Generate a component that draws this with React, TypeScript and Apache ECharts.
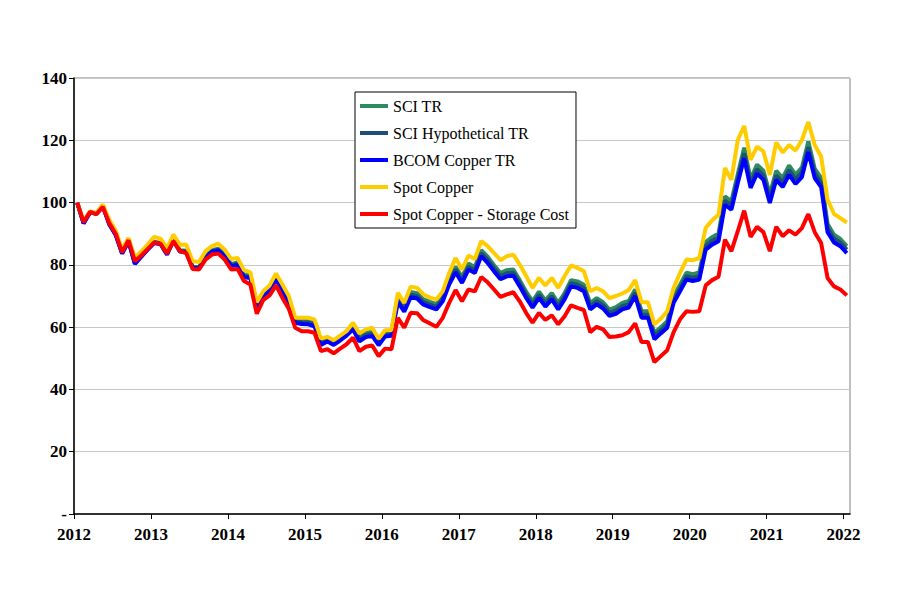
import React, { useEffect, useRef } from "react";
import * as echarts from "echarts";

const startYear = 2012;
const yTicks = [0, 20, 40, 60, 80, 100, 120, 140];
const seriesNames = ["SCI TR", "SCI Hypothetical TR", "BCOM Copper TR", "Spot Copper", "Spot Copper - Storage Cost"];
const seriesColors = ["#2E8B5F", "#1F4E79", "#0000FF", "#FFCC00", "#FF0000"];

const sciTR = [
  100, 93.5, 97, 96.6, 99.1, 93.3, 89.9, 83.9, 87.8, 80.6, 82.9, 85.3,
  87.4, 87, 83.7, 88.2, 84.7, 84.5, 79.4, 79.3, 82.7, 84.7, 85.2, 83.3,
  80.2, 80.8, 76.8, 76.7, 67.2, 70.6, 72.8, 76.3, 72.9, 68.4, 62.5, 62.2,
  62.1, 61.5, 55.5, 56.6, 55.5, 57, 58.6, 60.6, 56.8, 58.2, 58.6, 55.6,
  58.5, 58.7, 69.6, 66.6, 71.3, 70.9, 68.9, 68.1, 67.4, 70.1, 75.5, 79.4,
  76.1, 80.4, 79.3, 84.7, 82.6, 79.9, 77.4, 78.3, 78.5, 75.1, 71.4, 68.3,
  71.4, 68.6, 70.9, 67.7, 70.9, 75.1, 74.7, 73.6, 67.7, 69.3, 68, 65.6,
  66.4, 67.8, 68.4, 72.1, 65.1, 65.1, 58.1, 60, 61.9, 69.9, 73.6, 77.5,
  77, 77.6, 87.3, 88.9, 90.1, 102, 100.4, 109.1, 117.6, 107.5, 112.2, 110.2,
  102.7, 110.2, 107.9, 111.9, 109, 111.2, 119.6, 110.9, 107.9, 93.2, 89.7, 88.3,
  86,
];

const sciHypTR = [
  100, 93.4, 96.9, 96.5, 98.9, 93.1, 89.7, 83.7, 87.6, 80.4, 82.7, 85.1,
  87.2, 86.8, 83.5, 88, 84.5, 84.2, 79.2, 79, 82.4, 84.4, 84.9, 83,
  79.9, 80.4, 76.4, 76.2, 66.7, 70.1, 72.3, 75.7, 72.3, 67.8, 61.9, 61.6,
  61.5, 60.9, 54.9, 56, 54.9, 56.3, 57.9, 59.9, 56.1, 57.5, 57.9, 54.9,
  57.7, 57.9, 68.8, 65.8, 70.4, 70, 68, 67.2, 66.5, 69.2, 74.6, 78.5,
  75.1, 79.4, 78.3, 83.7, 81.6, 78.9, 76.4, 77.3, 77.5, 74.1, 70.4, 67.3,
  70.4, 67.6, 69.9, 66.7, 69.9, 74.1, 73.6, 72.5, 66.7, 68.3, 67, 64.6,
  65.3, 66.7, 67.3, 71, 64, 64, 57.1, 59, 60.8, 68.8, 72.5, 76.4,
  75.9, 76.4, 86.1, 87.7, 88.8, 100.6, 99, 107.7, 115.8, 106.1, 110.7, 108.7,
  101.3, 108.7, 106.4, 110.4, 107.5, 109.7, 117.8, 109.4, 106.4, 91.8, 88.4, 87.1,
  84.9,
];

const bcomTR = [
  100, 93.3, 96.8, 96.4, 98.8, 93, 89.6, 83.6, 87.5, 80.3, 82.6, 84.9,
  87, 86.6, 83.3, 87.8, 84.3, 84, 79, 78.8, 82.2, 84.2, 84.6, 82.7,
  79.6, 80, 76, 75.8, 66.3, 69.6, 71.8, 75.2, 71.8, 67.3, 61.4, 61,
  60.9, 60.3, 54.3, 55.4, 54.3, 55.7, 57.3, 59.3, 55.4, 56.8, 57.2, 54.2,
  57, 57.2, 68, 65, 69.6, 69.2, 67.2, 66.4, 65.7, 68.3, 73.7, 77.6,
  74.2, 78.5, 77.4, 82.8, 80.6, 77.9, 75.4, 76.3, 76.5, 73.1, 69.4, 66.3,
  69.4, 66.6, 68.9, 65.7, 68.9, 73.1, 72.6, 71.5, 65.7, 67.3, 66, 63.6,
  64.3, 65.7, 66.3, 70, 63, 63, 56.1, 58, 59.8, 67.8, 71.5, 75.3,
  74.8, 75.3, 84.9, 86.5, 87.6, 99.3, 97.7, 106.3, 114.2, 104.7, 109.3, 107.3,
  99.9, 107.3, 105, 108.9, 106, 108.2, 116.2, 107.9, 105, 90.5, 87.2, 86,
  83.8,
];

const spotCopper = [
  100, 94.2, 97.2, 96.6, 99.4, 94.5, 91, 85, 88.6, 82.3, 84.3, 86.6,
  89, 88.4, 85.3, 89.7, 86.4, 86.5, 81.2, 80.9, 84.4, 86, 86.8, 84.9,
  81.9, 82.2, 78.3, 77.6, 68, 71.5, 73.4, 77.2, 73.7, 70, 63, 63,
  63, 62.5, 56.3, 56.9, 55.8, 57.3, 58.7, 61.4, 58, 59.3, 59.8, 56.3,
  59, 59, 71, 67.8, 73, 72.6, 70.5, 69.5, 68.9, 71.5, 77.4, 82.2,
  78.5, 83, 81.9, 87.6, 86, 83.8, 81.5, 82.8, 83.3, 80.1, 76.4, 72.6,
  75.8, 73.4, 75.8, 72.6, 76.4, 79.8, 79, 78, 71.5, 72.6, 71.5, 69.3,
  70, 70.8, 71.9, 75.1, 68, 68, 60.9, 62.7, 65.1, 72.6, 77.4, 81.7,
  81.5, 82.2, 91.9, 94.3, 96.1, 111.1, 107.3, 120.1, 124.6, 113.7, 118, 116.4,
  108.9, 119.3, 116.1, 118.5, 116.7, 120.1, 125.9, 118.5, 114.8, 100.9, 96.4, 95,
  93.6,
];

const spotLessStorage = [
  100, 93.7, 97, 96.3, 98.6, 93.4, 90, 84, 87.9, 81.2, 83, 85.1,
  87.2, 86.8, 83.6, 87.6, 84.4, 83.8, 78.7, 78.5, 81.7, 83.3, 83.6, 81.7,
  78.5, 78.7, 74.8, 73.7, 64.3, 68.7, 70.2, 73.4, 69.4, 65.9, 59.8, 58.7,
  58.7, 58.2, 52.3, 52.9, 51.6, 53.1, 54.5, 56.6, 52.3, 53.7, 54.1, 50.7,
  53.1, 52.9, 63, 59.8, 64.6, 64.5, 62.2, 61.2, 60.1, 63, 67.8, 71.9,
  68.3, 72.1, 71.5, 76.1, 74.4, 72.1, 69.7, 70.5, 71.2, 68.3, 64.6, 61.4,
  64.6, 62.3, 63.8, 60.9, 63.5, 67, 66.2, 65.5, 58.4, 60.1, 59.3, 56.8,
  57, 57.4, 58.4, 61.2, 55.2, 55.2, 48.8, 50.7, 52.6, 58.4, 62.5, 65.1,
  64.9, 65.1, 73.4, 75.1, 76.2, 88.1, 84.4, 90.8, 97.4, 89, 92.2, 90.5,
  84.4, 92.2, 89.2, 91.1, 89.7, 91.8, 96.3, 90.5, 87, 75.8, 73.1, 72.1,
  70.2,
];

const allSeries = [sciTR, sciHypTR, bcomTR, spotCopper, spotLessStorage];

const FONT = "'Liberation Serif', 'Times New Roman', serif";

export default function App() {
  const ref = useRef<HTMLDivElement>(null);
  useEffect(() => {
    if (!ref.current) return;
    const chart = echarts.init(ref.current, null, { renderer: "svg" });
    chart.setOption({
      animation: false,
      backgroundColor: "#ffffff",
      grid: {
        left: 74,
        right: 50,
        top: 78,
        bottom: 97,
        show: true,
        borderColor: "#808080",
        borderWidth: 1,
        backgroundColor: "transparent",
      },
      legend: {
        orient: "vertical",
        left: 355,
        top: 92,
        data: seriesNames,
        icon: "rect",
        itemWidth: 28,
        itemHeight: 4,
        itemGap: 9,
        padding: [5, 7, 5, 5],
        borderColor: "#000000",
        borderWidth: 1,
        backgroundColor: "#ffffff",
        textStyle: { fontFamily: FONT, fontSize: 16, color: "#000", lineHeight: 18 },
      },
      xAxis: {
        type: "value",
        min: 0,
        max: 121,
        interval: 12,
        axisLine: { show: true, lineStyle: { color: "#000", width: 1.5 } },
        axisTick: { show: true, length: 5, lineStyle: { color: "#000" } },
        splitLine: { show: false },
        axisLabel: {
          showMaxLabel: false,
          margin: 12,
          fontFamily: FONT,
          fontWeight: "bold",
          fontSize: 17,
          color: "#000",
          formatter: (v: number) => (v % 12 === 0 ? String(startYear + v / 12) : ""),
        },
      },
      yAxis: {
        type: "value",
        min: yTicks[0],
        max: yTicks[yTicks.length - 1],
        interval: 20,
        axisLine: { show: true, lineStyle: { color: "#000", width: 1.5 } },
        axisTick: { show: true, length: 5, lineStyle: { color: "#000" } },
        splitLine: { show: true, lineStyle: { color: "#c8c8c8", width: 1 } },
        axisLabel: {
          margin: 7,
          fontFamily: FONT,
          fontWeight: "bold",
          fontSize: 17,
          color: "#000",
          formatter: (v: number) => (v === 0 ? "-" : String(v)),
        },
      },
      series: allSeries.map((vals, si) => ({
        name: seriesNames[si],
        type: "line",
        symbol: "none",
        color: seriesColors[si],
        lineStyle: { width: 4, color: seriesColors[si] },
        data: vals.map((v, i) => [i + 0.5, v]),
      })),
    });
    return () => chart.dispose();
  }, []);
  return (
    <div
      ref={ref}
      style={{ position: "fixed", left: 0, top: 0, width: 900, height: 611, background: "#fff" }}
    />
  );
}
